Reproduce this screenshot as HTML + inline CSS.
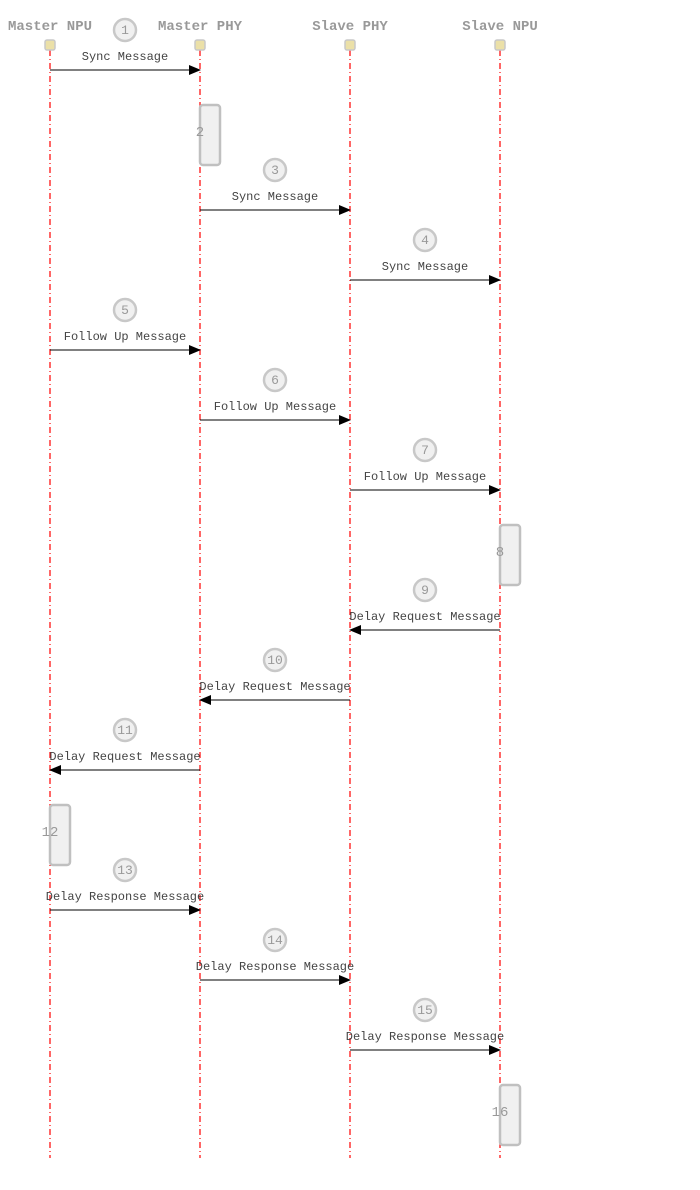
<!DOCTYPE html>
<html><head><meta charset="utf-8"><style>
html,body{margin:0;padding:0;background:#fff;width:700px;height:1190px;overflow:hidden}
svg text{font-family:"Liberation Mono",monospace}
</style></head><body>
<svg width="700" height="1190" xmlns="http://www.w3.org/2000/svg">
<defs><marker id="a" markerWidth="12" markerHeight="10" refX="11" refY="5" orient="auto" markerUnits="userSpaceOnUse"><path d="M0,0 L12,5 L0,10 z" fill="#000"/></marker></defs>
<g stroke="#f00" stroke-width="1.2" stroke-dasharray="6,3,1,3">
<line x1="50" y1="50" x2="50" y2="1158"/><line x1="200" y1="50" x2="200" y2="1158"/>
<line x1="350" y1="50" x2="350" y2="1158"/><line x1="500" y1="50" x2="500" y2="1158"/>
</g>
<g font-size="14" font-weight="bold" fill="#999" text-anchor="middle">
<text x="50" y="30">Master NPU</text><text x="200" y="30">Master PHY</text>
<text x="350" y="30">Slave PHY</text><text x="500" y="30">Slave NPU</text>
</g>
<g fill="#ebe0a8" stroke="#c8c8c8" stroke-width="1.5">
<rect x="45" y="40" width="10" height="10" rx="2"/><rect x="195" y="40" width="10" height="10" rx="2"/>
<rect x="345" y="40" width="10" height="10" rx="2"/><rect x="495" y="40" width="10" height="10" rx="2"/>
</g>
<g fill="#f0f0f0" stroke="#c0c0c0" stroke-width="2.5">
<rect x="200" y="105" width="20" height="60" rx="3"/><rect x="500" y="525" width="20" height="60" rx="3"/>
<rect x="50" y="805" width="20" height="60" rx="3"/><rect x="500" y="1085" width="20" height="60" rx="3"/>
</g>
<g font-size="14" fill="#999" text-anchor="middle">
<text x="200" y="136">2</text><text x="500" y="556">8</text><text x="50" y="836">12</text><text x="500" y="1116">16</text>
</g>
<g stroke="#000" stroke-width="1" marker-end="url(#a)">
<line x1="50" y1="70" x2="200" y2="70"/>
<line x1="200" y1="210" x2="350" y2="210"/>
<line x1="350" y1="280" x2="500" y2="280"/>
<line x1="50" y1="350" x2="200" y2="350"/>
<line x1="200" y1="420" x2="350" y2="420"/>
<line x1="350" y1="490" x2="500" y2="490"/>
<line x1="500" y1="630" x2="350" y2="630"/>
<line x1="350" y1="700" x2="200" y2="700"/>
<line x1="200" y1="770" x2="50" y2="770"/>
<line x1="50" y1="910" x2="200" y2="910"/>
<line x1="200" y1="980" x2="350" y2="980"/>
<line x1="350" y1="1050" x2="500" y2="1050"/>
</g>
<g fill="#f0f0f0" stroke="#c8c8c8" stroke-width="2.5">
<circle cx="125" cy="30" r="11"/><circle cx="275" cy="170" r="11"/><circle cx="425" cy="240" r="11"/>
<circle cx="125" cy="310" r="11"/><circle cx="275" cy="380" r="11"/><circle cx="425" cy="450" r="11"/>
<circle cx="425" cy="590" r="11"/><circle cx="275" cy="660" r="11"/><circle cx="125" cy="730" r="11"/>
<circle cx="125" cy="870" r="11"/><circle cx="275" cy="940" r="11"/><circle cx="425" cy="1010" r="11"/>
</g>
<g font-size="13" fill="#999" text-anchor="middle">
<text x="125" y="34">1</text><text x="275" y="174">3</text><text x="425" y="244">4</text>
<text x="125" y="314">5</text><text x="275" y="384">6</text><text x="425" y="454">7</text>
<text x="425" y="594">9</text><text x="275" y="664">10</text><text x="125" y="734">11</text>
<text x="125" y="874">13</text><text x="275" y="944">14</text><text x="425" y="1014">15</text>
</g>
<g font-size="12" fill="#444" text-anchor="middle">
<text x="125" y="60">Sync Message</text>
<text x="275" y="200">Sync Message</text>
<text x="425" y="270">Sync Message</text>
<text x="125" y="340">Follow Up Message</text>
<text x="275" y="410">Follow Up Message</text>
<text x="425" y="480">Follow Up Message</text>
<text x="425" y="620">Delay Request Message</text>
<text x="275" y="690">Delay Request Message</text>
<text x="125" y="760">Delay Request Message</text>
<text x="125" y="900">Delay Response Message</text>
<text x="275" y="970">Delay Response Message</text>
<text x="425" y="1040">Delay Response Message</text>
</g>
</svg>
</body></html>
